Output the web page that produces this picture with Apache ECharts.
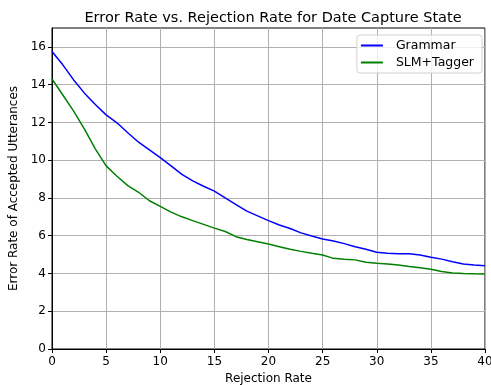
<!DOCTYPE html>
<html>
<head>
<meta charset="utf-8">
<script src="https://cdn.jsdelivr.net/npm/echarts@6/dist/echarts.min.js"></script>
<style>
  html, body { margin: 0; padding: 0; background: #fff; }
  #chart { width: 491px; height: 385px; }
</style>
</head>
<body>
<div id="chart"></div>
<script>
// rejection rate (%) sampled at each integer step
const rejection = [0, 1, 2, 3, 4, 5, 6, 7, 8, 9, 10, 11, 12, 13, 14, 15, 16, 17, 18, 19, 20,
  21, 22, 23, 24, 25, 26, 27, 28, 29, 30, 31, 32, 33, 34, 35, 36, 37, 38, 39, 40];
const grammar = [15.76, 15.05, 14.25, 13.55, 12.95, 12.4, 11.98, 11.45, 10.95, 10.55, 10.13,
  9.7, 9.25, 8.9, 8.62, 8.36, 8.0, 7.65, 7.3, 7.05, 6.8,
  6.57, 6.38, 6.15, 5.98, 5.83, 5.72, 5.58, 5.42, 5.28, 5.12,
  5.07, 5.05, 5.04, 4.98, 4.86, 4.76, 4.62, 4.5, 4.45, 4.41];
const slmTagger = [14.3, 13.45, 12.6, 11.65, 10.6, 9.7, 9.15, 8.65, 8.3, 7.85, 7.55,
  7.25, 7.0, 6.8, 6.6, 6.4, 6.22, 5.95, 5.8, 5.68, 5.56,
  5.42, 5.28, 5.17, 5.07, 4.98, 4.8, 4.75, 4.72, 4.6, 4.54,
  4.5, 4.45, 4.37, 4.3, 4.22, 4.1, 4.03, 4.0, 3.98, 3.97];
const yTicks = [0, 2, 4, 6, 8, 10, 12, 14, 16];

const font = "DejaVu Sans";
const chart = echarts.init(document.getElementById("chart"));

chart.setOption({
  animation: false,
  textStyle: { fontFamily: font },
  title: {
    text: "Error Rate vs. Rejection Rate for Date Capture State",
    left: 268,
    textAlign: "center",
    top: 6,
    textStyle: { fontFamily: font, fontSize: 14.5, fontWeight: "normal", color: "#000" },
  },
  legend: {
    orient: "vertical",
    right: 9,
    top: 35,
    padding: [4, 8, 4, 4],
    itemGap: 4,
    itemWidth: 22,
    itemHeight: 2,
    icon: "rect",
    borderColor: "#d0d0d0",
    borderWidth: 1,
    borderRadius: 3,
    backgroundColor: "rgba(255,255,255,0.8)",
    textStyle: { fontFamily: font, fontSize: 12.5, color: "#000", padding: [0, 0, 0, 8] },
    data: ["Grammar", "SLM+Tagger"],
  },
  grid: {
    left: 52,
    right: 6,
    top: 28,
    bottom: 36,
    outerBoundsMode: "none",
    show: true,
    borderColor: "#000",
    borderWidth: 1,
  },
  xAxis: {
    type: "value",
    min: 0,
    max: 40,
    interval: 5,
    name: "Rejection Rate",
    nameLocation: "middle",
    nameGap: 24,
    nameTextStyle: { fontFamily: font, fontSize: 12, color: "#000" },
    axisLine: { lineStyle: { color: "#000", width: 1 } },
    axisTick: { show: true, length: 4, lineStyle: { color: "#000" } },
    axisLabel: { fontFamily: font, fontSize: 12, color: "#000", margin: 7 },
    splitLine: { show: true, lineStyle: { color: "#b0b0b0", width: 1 } },
  },
  yAxis: {
    type: "value",
    min: 0,
    max: 17,
    interval: 2,
    name: "Error Rate of Accepted Utterances",
    nameLocation: "middle",
    nameGap: 25,
    nameTextStyle: { fontFamily: font, fontSize: 12, color: "#000" },
    axisLine: { show: true, lineStyle: { color: "#000", width: 1 } },
    axisTick: { show: true, length: 4, lineStyle: { color: "#000" }, customValues: yTicks },
    axisLabel: { fontFamily: font, fontSize: 12, color: "#000", margin: 6, customValues: yTicks },
    splitLine: { show: true, lineStyle: { color: "#b0b0b0", width: 1 } },
  },
  series: [
    {
      name: "Grammar",
      type: "line",
      data: rejection.map((x, i) => [x, grammar[i]]),
      showSymbol: false,
      symbol: "none",
      color: "#0000ff",
      lineStyle: { color: "#0000ff", width: 1.5 },
    },
    {
      name: "SLM+Tagger",
      type: "line",
      data: rejection.map((x, i) => [x, slmTagger[i]]),
      showSymbol: false,
      symbol: "none",
      color: "#008000",
      lineStyle: { color: "#008000", width: 1.5 },
    },
  ],
});
</script>
</body>
</html>
